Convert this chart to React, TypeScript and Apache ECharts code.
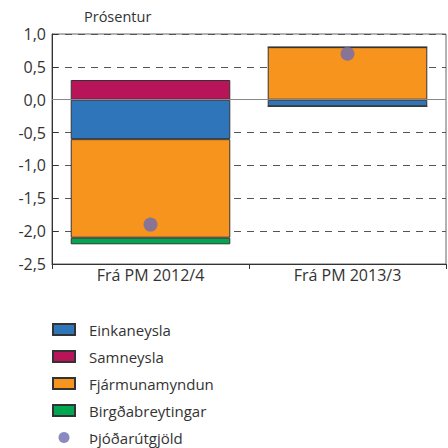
import React, { useEffect, useRef } from "react";
import * as echarts from "echarts";

const categories = ["Frá PM 2012/4", "Frá PM 2013/3"];
const einkaneysla = [-0.6, -0.1];
const samneysla = [0.3, 0];
const fjarmunamyndun = [-1.5, 0.8];
const birgdabreytingar = [-0.1, 0];
const thjodarutgjold = [-1.9, 0.7];
const yTicks = { min: -2.5, max: 1.0, interval: 0.5 };

const FONT = "'Open Sans', 'Noto Sans', sans-serif";
const BORDER = "#333";

export default function App() {
  const ref = useRef<HTMLDivElement>(null);
  useEffect(() => {
    if (!ref.current) return;
    const chart = echarts.init(ref.current, undefined, { renderer: "svg" });
    const barBase = {
      type: "bar" as const,
      stack: "total",
      barWidth: "81%",
      itemStyle: { borderColor: BORDER, borderWidth: 1 },
    };
    chart.setOption({
      animation: false,
      textStyle: { fontFamily: FONT },
      graphic: [
        {
          type: "text",
          left: 84,
          top: 9,
          style: { text: "Prósentur", fontSize: 14.5, fill: "#333", fontFamily: FONT },
        },
      ],
      grid: {
        left: 52,
        right: 2,
        top: 34,
        bottom: 184,
        show: true,
        borderColor: "#666",
        borderWidth: 1,
        containLabel: false,
      },
      legend: {
        orient: "vertical",
        left: 52,
        top: 322,
        padding: 0,
        itemWidth: 22,
        itemHeight: 11,
        itemGap: 12,
        icon: "rect",
        textStyle: { fontSize: 15, color: "#333", fontFamily: FONT, padding: [0, 0, 0, 9] },
        data: [
          { name: "Einkaneysla" },
          { name: "Samneysla" },
          { name: "Fjármunamyndun" },
          { name: "Birgðabreytingar" },
          { name: "Þjóðarútgjöld", icon: "circle" },
        ],
      },
      xAxis: {
        type: "category",
        data: categories,
        axisLine: { onZero: false, lineStyle: { color: "#333", width: 1 } },
        axisTick: { show: true, length: 5, lineStyle: { color: "#333" } },
        axisLabel: { fontSize: 16, color: "#333", margin: 3, fontFamily: FONT },
        splitLine: { show: false },
      },
      yAxis: {
        type: "value",
        min: yTicks.min,
        max: yTicks.max,
        interval: yTicks.interval,
        axisLine: { show: true, lineStyle: { color: "#333" } },
        axisTick: { show: true, inside: true, length: 6, lineStyle: { color: "#333" } },
        axisLabel: {
          fontSize: 16,
          color: "#333",
          margin: 6,
          fontFamily: FONT,
          formatter: (v: number) => v.toFixed(1).replace(".", ","),
        },
        splitLine: { show: true, lineStyle: { color: "#555", type: [7, 6], width: 1 } },
      },
      series: [
        {
          ...barBase,
          name: "Einkaneysla",
          data: einkaneysla,
          itemStyle: { ...barBase.itemStyle, color: "#2E75B9" },
          markLine: {
            silent: true,
            symbol: "none",
            label: { show: false },
            lineStyle: { color: "#888", type: "solid", width: 1 },
            data: [{ yAxis: 0 }],
          },
        },
        {
          ...barBase,
          name: "Samneysla",
          data: samneysla,
          itemStyle: { ...barBase.itemStyle, color: "#B8145A" },
        },
        {
          ...barBase,
          name: "Fjármunamyndun",
          data: fjarmunamyndun,
          itemStyle: { ...barBase.itemStyle, color: "#F7941E" },
        },
        {
          ...barBase,
          name: "Birgðabreytingar",
          data: birgdabreytingar,
          itemStyle: { ...barBase.itemStyle, color: "#00A650" },
        },
        {
          type: "scatter",
          name: "Þjóðarútgjöld",
          data: thjodarutgjold,
          symbol: "circle",
          symbolSize: 14,
          itemStyle: { color: "#6E6BB3" },
          z: 5,
        },
      ],
    });
    return () => chart.dispose();
  }, []);
  return <div ref={ref} style={{ width: 448, height: 448, position: "absolute", left: 0, top: 0 }} />;
}
